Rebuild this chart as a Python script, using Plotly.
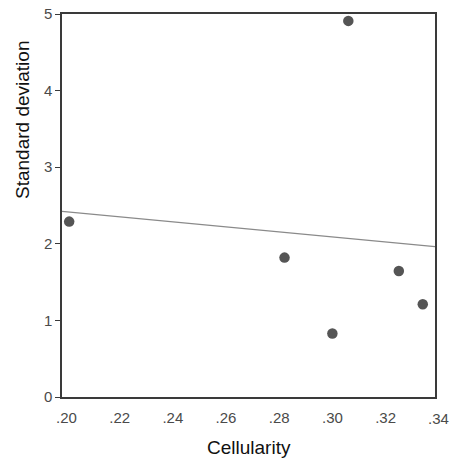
import numpy as np
import plotly.graph_objects as go

# Data
cellularity = [0.201, 0.306, 0.282, 0.300, 0.325, 0.334]
std_dev = [2.29, 4.91, 1.82, 0.83, 1.645, 1.21]

x_tick_vals = [0.20, 0.22, 0.24, 0.26, 0.28, 0.30, 0.32]
x_tick_text = [".20", ".22", ".24", ".26", ".28", ".30", ".32"]
extra_tick_val = 0.34
extra_tick_text = ".34"
y_tick_vals = [0, 1, 2, 3, 4, 5]

x_range = [0.1983, 0.3386]
y_range = [0, 5]

# Linear regression fit line from data
slope, intercept = np.polyfit(cellularity, std_dev, 1)
fit_x = np.array(x_range)
fit_y = slope * fit_x + intercept

FONT = "Liberation Sans, Arial, sans-serif"

W, H = 450, 459
ML, MR, MT, MB = 62, 15, 14, 62
pw, ph = W - ML - MR, H - MT - MB

fig = go.Figure()
fig.add_trace(go.Scatter(
    x=fit_x, y=fit_y, mode="lines",
    line=dict(color="#8a8a8a", width=1.2),
    hoverinfo="skip", showlegend=False,
))
fig.add_trace(go.Scatter(
    x=cellularity, y=std_dev, mode="markers",
    marker=dict(color="#555555", size=10.5),
    cliponaxis=False, showlegend=False,
))

fig.update_layout(
    width=W, height=H,
    margin=dict(l=ML, r=MR, t=MT, b=MB, autoexpand=False),
    paper_bgcolor="white", plot_bgcolor="white",
    font=dict(family=FONT, color="#444444", size=15),
    xaxis=dict(
        range=x_range, tickvals=x_tick_vals, ticktext=x_tick_text,
        showgrid=False, zeroline=False, showline=True, mirror=True,
        linecolor="#3a3a3a", linewidth=1.5, ticks="",
        ticklabelstandoff=6, ticklabeloverflow="allow",
        tickfont=dict(family=FONT, size=15, color="#4a4a4a"),
    ),
    yaxis=dict(
        range=y_range, tickvals=y_tick_vals,
        showgrid=False, zeroline=False, showline=True, mirror=True,
        linecolor="#3a3a3a", linewidth=1.5, ticks="outside", ticklen=5,
        tickcolor="#3a3a3a", tickwidth=1, ticklabeloverflow="allow",
        tickfont=dict(family=FONT, size=15, color="#4a4a4a"),
    ),
    annotations=[
        dict(text=extra_tick_text, xref="paper", yref="paper",
             x=(extra_tick_val - x_range[0]) / (x_range[1] - x_range[0]),
             y=-21 / ph, xanchor="center", yanchor="middle", showarrow=False,
             font=dict(family=FONT, size=15, color="#4a4a4a")),
        dict(text="Cellularity", xref="paper", yref="paper",
             x=0.5, y=-50 / ph, xanchor="center", yanchor="middle",
             showarrow=False, font=dict(family=FONT, size=19, color="#111111")),
        dict(text="Standard deviation", xref="paper", yref="paper",
             x=-40 / pw, y=(383 - 106) / ph, xanchor="center", yanchor="middle",
             textangle=-90, showarrow=False,
             font=dict(family=FONT, size=19, color="#111111")),
    ],
)

fig.write_html(
    "out.html",
    config={"displayModeBar": False},
    post_script="document.body.style.margin='0';document.body.style.overflow='hidden';",
)
